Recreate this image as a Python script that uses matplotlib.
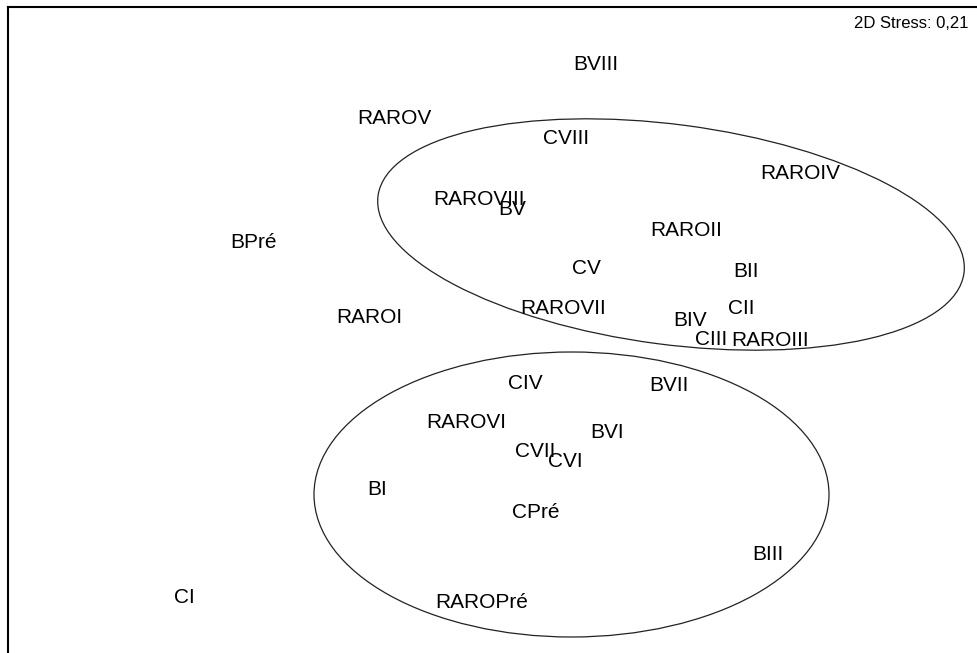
import matplotlib
matplotlib.use("Agg")
import matplotlib.pyplot as plt
from matplotlib.patches import Ellipse

# NMDS sample labels and their positions (image-pixel-like coordinates, y downward)
labels = ["BVIII", "RAROV", "CVIII", "RAROIV", "RAROVIII", "BV", "BPré", "RAROII",
          "CV", "BII", "RAROVII", "RAROI", "CII", "BIV", "CIII", "RAROIII",
          "CIV", "BVII", "RAROVI", "BVI", "CVII", "CVI", "BI", "CPré", "BIII",
          "CI", "RAROPré"]
xs = [596, 394, 566, 800, 479, 512, 254, 686,
      586, 746, 563, 369, 741, 690, 711, 770,
      525, 669, 466, 607, 535, 565, 377, 536, 768,
      184, 482]
ys = [65, 119, 139, 174, 200, 210, 243, 231,
      269, 272, 309, 318, 309, 321, 340, 341,
      384, 386, 423, 433, 452, 462, 490, 513, 555,
      598, 603]

# group ellipses: center x, center y, width, height, angle
ell_cx = [671, 571.5]
ell_cy = [234.5, 494.5]
ell_w = [591, 515]
ell_h = [220, 285]
ell_ang = [7.5, 0]

stress_text = "2D Stress: 0,21"

W, H = 977, 653
fig = plt.figure(figsize=(W / 100, H / 100), dpi=100)
left, top = 8, 7
ax = fig.add_axes([left / W, 0, (W - left) / W, (H - top) / H])
ax.set_xlim(left, W)
ax.set_ylim(H, top)
ax.set_xticks([])
ax.set_yticks([])
ax.spines["right"].set_visible(False)
ax.spines["bottom"].set_visible(False)
ax.spines["left"].set_linewidth(1.5)
ax.spines["top"].set_linewidth(1.5)

font = ["Liberation Sans", "DejaVu Sans"]
for lab, x, y in zip(labels, xs, ys):
    ax.text(x, y, lab, ha="center", va="center", fontsize=15, family=font, color="black")

for cx, cy, w, h, a in zip(ell_cx, ell_cy, ell_w, ell_h, ell_ang):
    ax.add_patch(Ellipse((cx, cy), w, h, angle=a, fill=False, edgecolor="#222222", linewidth=0.9))

ax.text(969, 24, stress_text, ha="right", va="center", fontsize=12,
        family=font, color="black")

fig.savefig("out.png", dpi=100)
